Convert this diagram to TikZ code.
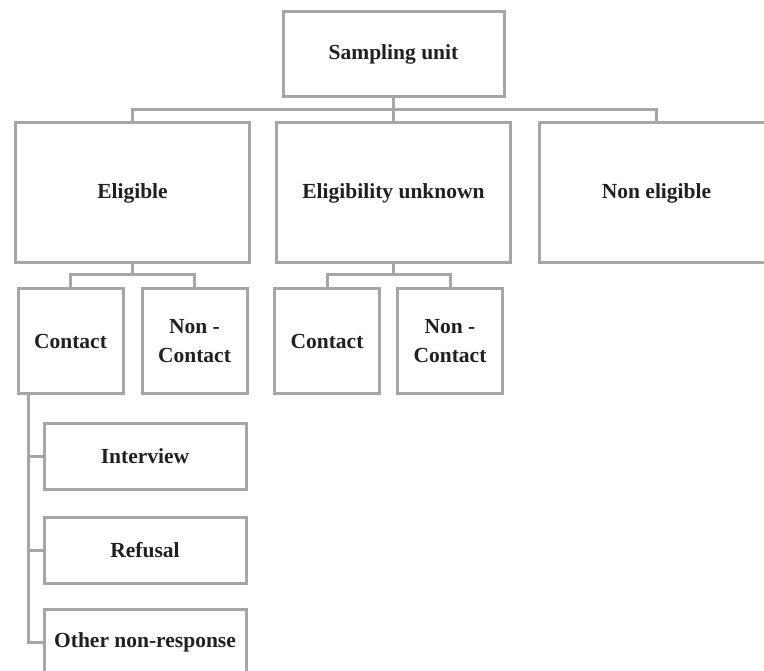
\documentclass[tikz,border=0pt]{standalone}
\usepackage{fontspec}
\setmainfont{Liberation Serif}
\usepackage{xcolor}
\usepackage{tikz}
\usetikzlibrary{positioning, calc}

\definecolor{linegray}{RGB}{166,166,166}
\definecolor{inkdark}{RGB}{35,31,32}

\begin{document}
\begin{tikzpicture}[
        x=1pt, y=1pt,
        font=\bfseries\fontsize{21.5}{29}\selectfont,
        node distance=26pt and 27pt,
        box/.style={draw=linegray, line width=3pt, align=center, outer sep=0pt, inner sep=2pt, text=inkdark},
        topbox/.style={box, minimum width=221pt, minimum height=85pt},
        big/.style={box, minimum width=234pt, minimum height=140pt},
        small/.style={box, minimum width=105pt, minimum height=105pt},
        wide/.style={box, minimum width=202pt, minimum height=66pt},
        link/.style={draw=linegray, line width=3pt}
    ]
        \useasboundingbox (0,0) rectangle (764,-671);

        % top level
        \node[topbox] (su) at (393.5,-54.5) {Sampling unit};
        \node[big, below=of su] (eu) {Eligibility unknown};
        \node[big, left=of eu] (el) {Eligible};
        \node[big, right=29pt of eu] (ne) {Non eligible};

        % contact level
        \node[small, below=26pt of el, xshift=-62pt] (c1) {Contact};
        \node[small, right=19pt of c1] (nc1) {Non -\\Contact};
        \node[small, below=26pt of eu, xshift=-66.5pt] (c2) {Contact};
        \node[small, right=18pt of c2] (nc2) {Non -\\Contact};

        % outcomes of contact
        \node[wide, below right=29pt and 26pt of c1.south west] (iv) {Interview};
        \node[wide, below=28pt of iv] (rf) {Refusal};
        \node[wide, below=26pt of rf] (onr) {Other non-response};

        % connectors
        \coordinate (j1) at ($(su.south)+(0,-13)$);
        \draw[link] (su.south) -- (j1) -- (eu.north);
        \draw[link] (el.north) |- (j1) -| (ne.north);

        \coordinate (j2) at ($(el.south)+(0,-12)$);
        \draw[link] (el.south) -- (j2);
        \draw[link] (c1.north) |- (j2) -| (nc1.north);

        \coordinate (j3) at ($(eu.south)+(0,-12)$);
        \draw[link] (eu.south) -- (j3);
        \draw[link] (c2.north) |- (j3) -| (nc2.north);

        \coordinate (t1) at ($(c1.south west)+(10,0)$);
        \draw[link] (t1) |- (iv.west);
        \draw[link] (t1) |- (rf.west);
        \draw[link] (t1) |- (onr.west);
    \end{tikzpicture}
\end{document}
